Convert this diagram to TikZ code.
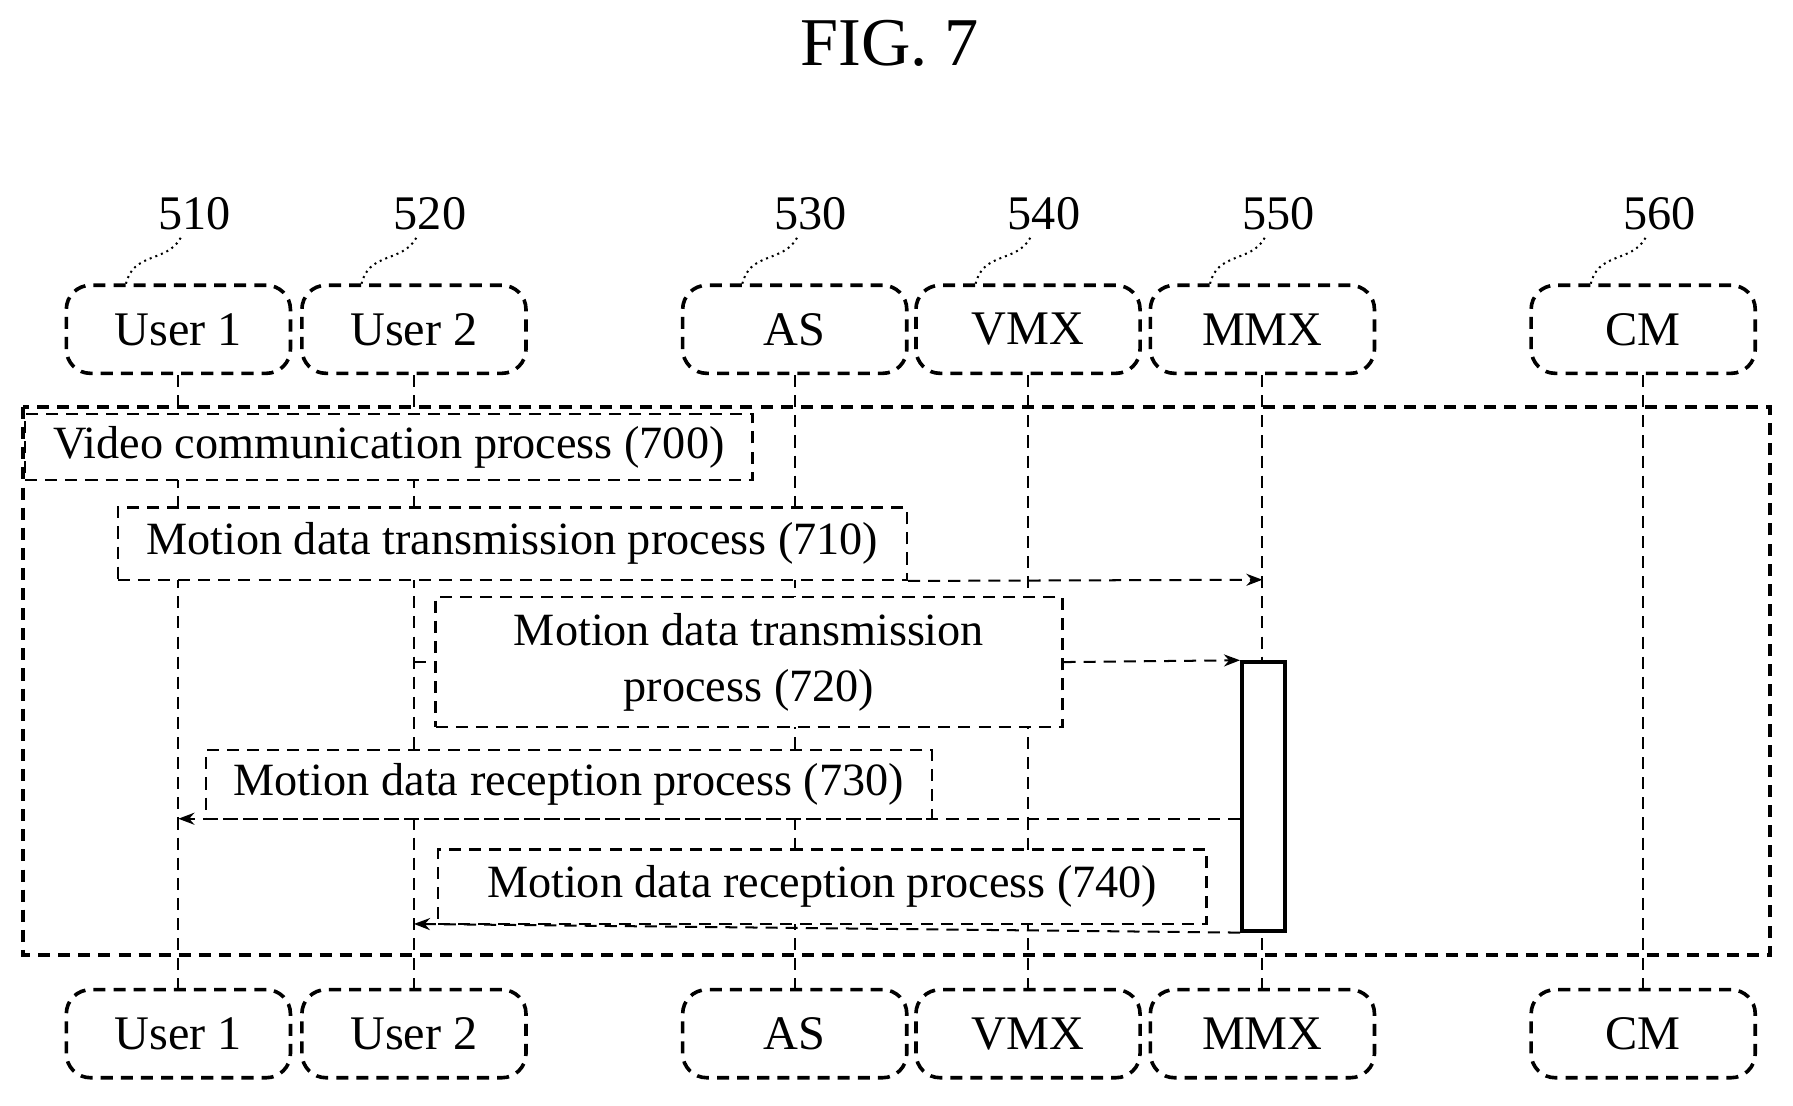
\documentclass[tikz,border=0pt]{standalone}
\usepackage{fontspec}
\setmainfont{Liberation Serif}
\usetikzlibrary{arrows.meta}
\begin{document}
\begin{tikzpicture}[x=0.01cm,y=-0.01cm,
  ent/.style={draw,densely dashed,line width=0.9pt,rounded corners=6pt,minimum width=196\pgflinewidth,inner sep=0pt,font=\fontsize{12}{12}\selectfont},
  proc/.style={draw,densely dashed,line width=0.6pt,inner sep=0pt,font=\fontsize{11.5}{14}\selectfont,align=center},
  life/.style={densely dashed,line width=0.5pt},
  msg/.style={densely dashed,line width=0.5pt,-{Stealth[length=4pt]}},
  lab/.style={font=\fontsize{12}{12}\selectfont},
  lead/.style={densely dotted,line width=0.5pt}]
\useasboundingbox (0,0) rectangle (1568,967);
\node[font=\fontsize{17}{17}\selectfont] (title) at (778,38) {FIG. 7};
\foreach \n/\t/\x/\l in {u1/User 1/156/510, u2/User 2/362/520, as/AS/695/530, vmx/VMX/899/540, mmx/MMX/1104/550, cm/CM/1437/560}{
  \node[draw,densely dashed,line width=0.9pt,rounded corners=6pt,minimum width=196*0.01cm,minimum height=77*0.01cm,font=\fontsize{12}{12}\selectfont] (\n t) at (\x,288) {\t};
  \node[draw,densely dashed,line width=0.9pt,rounded corners=6pt,minimum width=196*0.01cm,minimum height=77*0.01cm,font=\fontsize{12}{12}\selectfont] (\n b) at (\x,904) {\t};
  \node[lab] (\n l) at (\x+14,187) {\l};
  \draw[lead] (\x+2,208) .. controls (\x-10,230) and (\x-40,220) .. (\x-46,249);
  \draw[life] (\n t.south) -- (\n b.north);
}
\draw[densely dashed,line width=0.9pt] (20,356) rectangle (1548,835);
\node[proc,fill=white,minimum width=636*0.01cm,minimum height=58*0.01cm] (p700) at (340,391) {Video communication process (700)};
\node[proc,fill=white,minimum width=690*0.01cm,minimum height=63*0.01cm] (p710) at (448,475.5) {Motion data transmission process (710)};
\node[proc,fill=white,minimum width=548*0.01cm,minimum height=114*0.01cm] (p720) at (655,579) {Motion data transmission\\process (720)};
\node[proc,fill=white,minimum width=635*0.01cm,minimum height=60*0.01cm] (p730) at (497.5,686) {Motion data reception process (730)};
\node[proc,fill=white,minimum width=672*0.01cm,minimum height=65*0.01cm] (p740) at (719,775.5) {Motion data reception process (740)};
\node[draw,line width=0.9pt,fill=white,minimum width=38*0.01cm,minimum height=235*0.01cm,inner sep=0pt] (act) at (1105,696.5) {};
\coordinate (m710) at (1104,507);
\draw[msg] (p710.south east) -- (m710);
\draw[life] (362,579) -- (p720.west);
\draw[msg] (p720.east) -- (act.north west);
\coordinate (u1m) at (156,716);
\coordinate (u2m) at (362,808);
\draw[msg] (act.west |- u1m) -- (u1m);
\draw[msg] (act.south west) -- (u2m);
\end{tikzpicture}
\end{document}
